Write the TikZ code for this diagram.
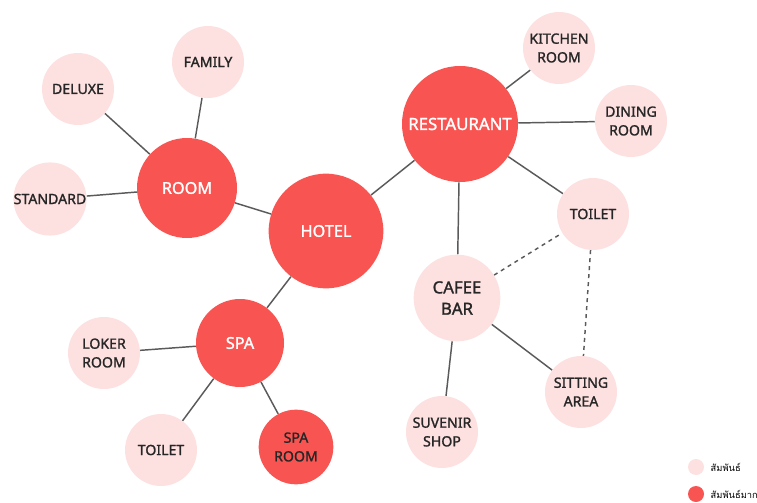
\documentclass[tikz,border=0pt]{standalone}
\usepackage{fontspec}
\setmainfont{Noto Sans}
\newfontfamily\tagfont{Noto Sans}[FakeBold=1.4]
\newfontfamily\thaifont[Script=Thai]{Loma}
\usetikzlibrary{backgrounds}
\definecolor{hot}{HTML}{F85552}
\definecolor{soft}{HTML}{FDE1E0}
\definecolor{wire}{HTML}{5A5A5A}

\begin{document}
\begin{tikzpicture}[x=0.75pt,y=-0.75pt,
big/.style={circle,fill=hot,text=white,font=\tagfont\fontsize{12.2}{14}\selectfont,align=center,inner sep=0pt},
small/.style={circle,fill=soft,text=black!85,font=\tagfont\fontsize{10.6}{14}\selectfont,align=center,inner sep=0pt,minimum size=54pt},
link/.style={draw=wire,line width=1.1pt}]
\useasboundingbox (0,0) rectangle (757,503);

% main circles
\node[big,minimum size=86pt] (hotel) at (326,231) {HOTEL};
\node[big,minimum size=75pt] (room) at (187,188) {ROOM};
\node[big,minimum size=87pt,font=\tagfont\fontsize{12.6}{14}\selectfont] (rest) at (460,124) {RESTAURANT};
\node[big,minimum size=66pt] (spa) at (240,343) {SPA};
\node[big,minimum size=56pt,text=black!85,font=\tagfont\fontsize{10.6}{14}\selectfont] (sparoom) at (296,447) {SPA\\ROOM};

% room
\node[small] (family) at (208,62) {FAMILY};
\node[small] (deluxe) at (78,89) {DELUXE};
\node[small] (standard) at (50,199) {STANDARD};

% restaurant
\node[small] (kitchen) at (559,48) {KITCHEN\\ROOM};
\node[small] (dining) at (631,121) {DINING\\ROOM};
\node[small] (toiletr) at (593,214) {TOILET};
\node[small,minimum size=65pt,font=\tagfont\fontsize{12.6}{16}\selectfont] (cafee) at (457,298) {CAFEE\\BAR};
\node[small] (sitting) at (581,392) {SITTING\\AREA};
\node[small] (suvenir) at (442,432) {SUVENIR\\SHOP};

% spa
\node[small] (loker) at (104,353) {LOKER\\ROOM};
\node[small] (toiletl) at (161,450) {TOILET};

% legend
\node[circle,fill=soft,minimum size=12pt,inner sep=0pt] (lowdot) at (696,467) {};
\node[anchor=west,font=\thaifont\fontsize{7}{8}\selectfont] (lowtxt) at (706,467) {สัมพันธ์};
\node[circle,fill=hot,minimum size=12pt,inner sep=0pt] (highdot) at (696,494) {};
\node[anchor=west,font=\thaifont\fontsize{7}{8}\selectfont] (hightxt) at (706,494) {สัมพันธ์มาก};

\begin{scope}[on background layer]
\draw[link] (hotel) -- (room);
\draw[link] (hotel) -- (rest);
\draw[link] (hotel) -- (spa);
\draw[link] (room) -- (family);
\draw[link] (room) -- (deluxe);
\draw[link] (room) -- (standard);
\draw[link] (rest) -- (kitchen);
\draw[link] (rest) -- (dining);
\draw[link] (rest) -- (toiletr);
\draw[link] (rest) -- (cafee);
\draw[link] (cafee) -- (suvenir);
\draw[link] (cafee) -- (sitting);
\draw[link,dashed] (cafee) -- (toiletr);
\draw[link,dashed] (toiletr) -- (sitting);
\draw[link] (spa) -- (loker);
\draw[link] (spa) -- (toiletl);
\draw[link] (spa) -- (sparoom);
\end{scope}
\end{tikzpicture}
\end{document}
